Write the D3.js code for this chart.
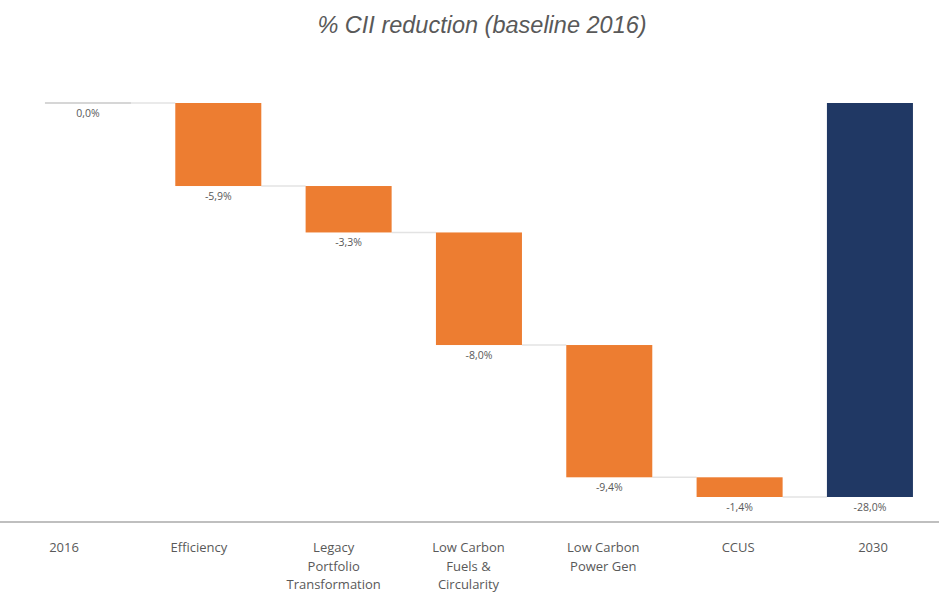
<!DOCTYPE html>
<html>
<head>
<meta charset="utf-8">
<script src="https://cdn.jsdelivr.net/npm/d3@7"></script>
<style>
  body { margin: 0; background: #fff; }
</style>
</head>
<body>
<div id="chart"></div>
<script>
// chart data
var categories = ["2016", "Efficiency", "Legacy|Portfolio|Transformation", "Low Carbon|Fuels &|Circularity", "Low Carbon|Power Gen", "CCUS", "2030"];
var values = [0.0, -5.9, -3.3, -8.0, -9.4, -1.4, -28.0];
var kinds = ["total", "step", "step", "step", "step", "step", "total"];

var width = 939, height = 592;
var orange = "#ED7D31", navy = "#203864", grey = "#595959";

var fmt = d3.formatLocale({decimal: ",", thousands: ".", grouping: [3], currency: ["", "%"], minus: "-"}).format(".1f");

// running totals for waterfall
var rows = [];
var run = 0;
for (var i = 0; i < categories.length; i++) {
    var start, end;
    if (kinds[i] == "total") { start = 0; end = values[i]; run = values[i]; }
    else { start = run; end = run + values[i]; run = end; }
    rows.push({name: categories[i], value: values[i], start: start, end: end, kind: kinds[i]});
}

var svg = d3.select("#chart").append("svg")
    .attr("width", width)
    .attr("height", height);

svg.append("text")
    .attr("x", 482)
    .attr("y", 33)
    .attr("text-anchor", "middle")
    .style("font-family", "Liberation Sans, Arial, sans-serif")
    .style("font-style", "italic")
    .style("font-size", "23.5px")
    .style("fill", grey)
    .text("% CII reduction (baseline 2016)");

var x = d3.scaleBand()
    .domain(categories)
    .range([22.8, 935.1])
    .paddingInner(0.34)
    .paddingOuter(0.17);

// labels sit on their own slightly offset positions
var xl = d3.scalePoint()
    .domain(categories)
    .range([64, 873]);

var y = d3.scaleLinear()
    .domain([-28, 0])
    .range([497, 103]);

// connectors
svg.selectAll("line.conn")
    .data(rows.slice(0, -1))
    .enter().append("line")
    .attr("class", "conn")
    .attr("x1", function(d) { return x(d.name) + x.bandwidth(); })
    .attr("x2", function(d, i) { return x(rows[i + 1].name); })
    .attr("y1", function(d) { return y(d.end); })
    .attr("y2", function(d) { return y(d.end); })
    .style("stroke", "#e3e3e3")
    .style("stroke-width", 1.5);

// bars
svg.selectAll("rect.bar")
    .data(rows)
    .enter().append("rect")
    .attr("class", "bar")
    .attr("x", function(d) { return x(d.name); })
    .attr("width", x.bandwidth())
    .attr("y", function(d) { return y(Math.max(d.start, d.end)); })
    .attr("height", function(d) { return Math.abs(y(d.start) - y(d.end)); })
    .style("fill", function(d) { return d.kind == "total" ? navy : orange; });

// zero-height 2016 bar shows as a thin line
svg.selectAll("line.zero")
    .data(rows.filter(function(d) { return d.value == 0; }))
    .enter().append("line")
    .attr("x1", function(d) { return x(d.name); })
    .attr("x2", function(d) { return x(d.name) + x.bandwidth(); })
    .attr("y1", function(d) { return y(0); })
    .attr("y2", function(d) { return y(0); })
    .style("stroke", "#c8c8c8")
    .style("stroke-width", 1.5);

// value labels
svg.selectAll("text.val")
    .data(rows)
    .enter().append("text")
    .attr("class", "val")
    .attr("x", function(d) { return x(d.name) + x.bandwidth() / 2; })
    .attr("y", function(d) { return y(Math.min(d.start, d.end)) + 14; })
    .attr("text-anchor", "middle")
    .style("font-family", "Open Sans, sans-serif")
    .style("font-size", "10.5px")
    .style("fill", grey)
    .text(function(d) { return fmt(d.value) + "%"; });

// axis line
svg.append("line")
    .attr("x1", 0).attr("x2", width)
    .attr("y1", 522).attr("y2", 522)
    .style("stroke", "#bfbfbf")
    .style("stroke-width", 2);

// category labels
var lab = svg.selectAll("text.cat")
    .data(categories)
    .enter().append("text")
    .attr("class", "cat")
    .attr("text-anchor", "middle")
    .style("font-family", "Open Sans, sans-serif")
    .style("font-size", "13px")
    .style("fill", grey);

lab.selectAll("tspan")
    .data(function(d) { return d.split("|").map(function(t) { return {t: t, c: d}; }); })
    .enter().append("tspan")
    .attr("x", function(d) { return xl(d.c); })
    .attr("y", function(d, i) { return 552 + i * 18.5; })
    .text(function(d) { return d.t; });
</script>
</body>
</html>
